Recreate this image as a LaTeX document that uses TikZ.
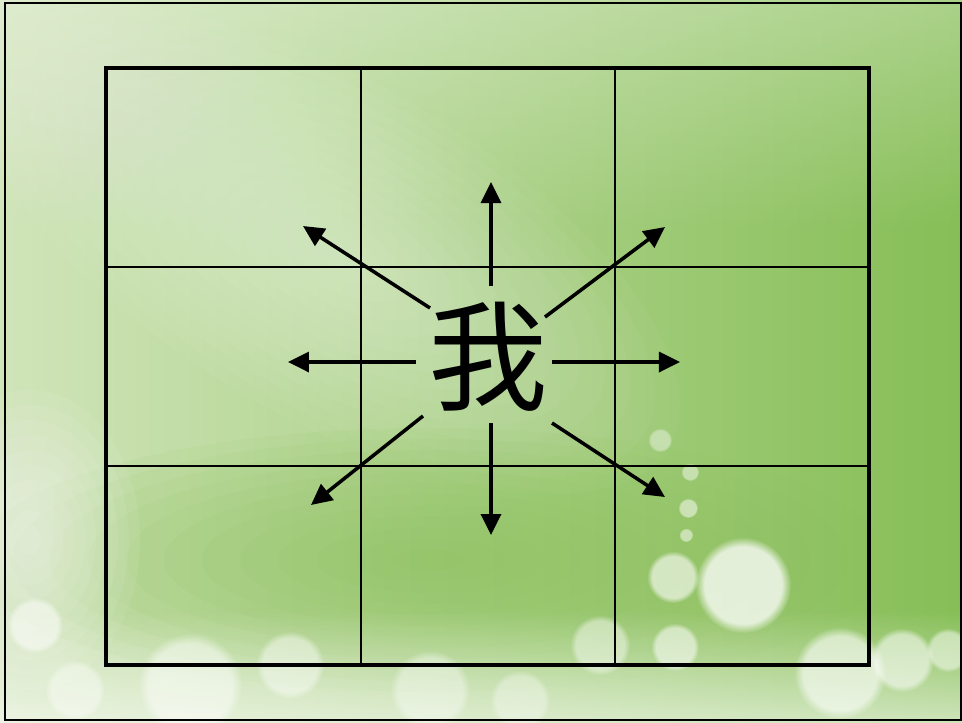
\documentclass[tikz,border=0pt]{standalone}
\usepackage{fontspec}
\newfontfamily\cjkfont{Noto Sans CJK SC}
\usetikzlibrary{arrows.meta,fadings}

\definecolor{leaf-light}{HTML}{D0E4B9}
\definecolor{leaf-dark}{HTML}{86BE56}
\definecolor{leaf-deep}{HTML}{8CC15C}

\tikzfading[name=rise-up, top color=transparent!100, bottom color=transparent!0]
\tikzfading[name=sink-down, top color=transparent!0, bottom color=transparent!100]

\begin{document}
\begin{tikzpicture}[x=0.1mm, y=-0.1mm,
  frame-line/.style={line width=0.65pt},
  box-line/.style={line width=1pt},
  grid-line/.style={line width=0.3pt},
  ray/.style={line width=1pt, -{Triangle[length=2.1mm, width=2mm]}},
  bokeh/.style={fill=white, opacity=#1, path fading=circle with fuzzy edge 20 percent}]

\useasboundingbox (0,0) rectangle (962,723);

\shade [left color=leaf-light, right color=leaf-dark] (0,0) rectangle (962,723);
\fill [white, opacity=0.3, path fading=sink-down] (0,0) rectangle (962,230);
\foreach \k in {1,...,14}
  \fill [white, opacity=0.035, rotate around={-30:(330,250)}] (330,250) ellipse [x radius=28*\k, y radius=12*\k];
\foreach \k in {1,...,12}
  \fill [leaf-deep, opacity=0.07] (430,560) ellipse [x radius=38*\k, y radius=11*\k];
\foreach \k in {1,...,10}
  \fill [white, opacity=0.07] (30,540) ellipse [x radius=11*\k, y radius=15*\k];
\fill [white, opacity=0.6, path fading=rise-up] (0,610) rectangle (962,723);

\fill [bokeh=0.75] (743,585) circle [radius=48];
\fill [bokeh=0.6] (673,577) circle [radius=26];
\fill [bokeh=0.55] (675,647) circle [radius=24];
\fill [bokeh=0.6] (840,673) circle [radius=46];
\fill [bokeh=0.55] (902,660) circle [radius=32];
\fill [bokeh=0.5] (948,650) circle [radius=22];
\fill [bokeh=0.5] (688,508) circle [radius=10];
\fill [bokeh=0.5] (686,535) circle [radius=7];
\fill [bokeh=0.45] (690,472) circle [radius=9];
\fill [bokeh=0.4] (660,440) circle [radius=12];
\fill [bokeh=0.45] (600,645) circle [radius=30];
\fill [bokeh=0.5] (190,685) circle [radius=52];
\fill [bokeh=0.45] (290,665) circle [radius=34];
\fill [bokeh=0.5] (35,625) circle [radius=28];
\fill [bokeh=0.4] (75,690) circle [radius=30];
\fill [bokeh=0.4] (430,690) circle [radius=40];
\fill [bokeh=0.35] (520,700) circle [radius=30];

\coordinate (sheet-top-left) at (5,3);
\coordinate (sheet-bottom-right) at (961,720);

\coordinate (box-top-left) at (106,68);
\coordinate (box-bottom-right) at (869,665);

\coordinate (col-one-top) at (361,68);
\coordinate (col-one-bottom) at (361,665);
\coordinate (col-two-top) at (615,68);
\coordinate (col-two-bottom) at (615,665);
\coordinate (row-one-left) at (106,267);
\coordinate (row-one-right) at (869,267);
\coordinate (row-two-left) at (106,466);
\coordinate (row-two-right) at (869,466);

\coordinate (up-start) at (491,286);
\coordinate (up-end) at (491,182);
\coordinate (up-left-start) at (430,308);
\coordinate (up-left-end) at (303,226);
\coordinate (up-right-start) at (545,317);
\coordinate (up-right-end) at (665,227);
\coordinate (left-start) at (416,362);
\coordinate (left-end) at (288,362);
\coordinate (right-start) at (552,362);
\coordinate (right-end) at (680,362);
\coordinate (down-left-start) at (423,416);
\coordinate (down-left-end) at (311,505);
\coordinate (down-start) at (491,423);
\coordinate (down-end) at (491,535);
\coordinate (down-right-start) at (552,423);
\coordinate (down-right-end) at (665,497);

\draw [frame-line] (sheet-top-left) rectangle (sheet-bottom-right);

\draw [grid-line] (col-one-top) -- (col-one-bottom);
\draw [grid-line] (col-two-top) -- (col-two-bottom);
\draw [grid-line] (row-one-left) -- (row-one-right);
\draw [grid-line] (row-two-left) -- (row-two-right);
\draw [box-line] (box-top-left) rectangle (box-bottom-right);

\draw [ray] (up-start) -- (up-end);
\draw [ray] (up-left-start) -- (up-left-end);
\draw [ray] (up-right-start) -- (up-right-end);
\draw [ray] (left-start) -- (left-end);
\draw [ray] (right-start) -- (right-end);
\draw [ray] (down-left-start) -- (down-left-end);
\draw [ray] (down-start) -- (down-end);
\draw [ray] (down-right-start) -- (down-right-end);

\node [font=\fontsize{34}{34}\selectfont\cjkfont, inner sep=0pt] (wo-char) at (488,357) {我};

\end{tikzpicture}
\end{document}
